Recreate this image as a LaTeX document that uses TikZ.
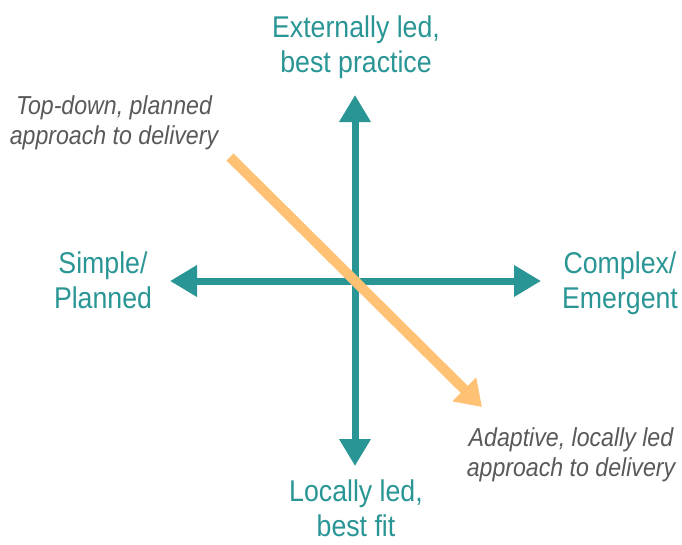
\documentclass[tikz,border=0pt]{standalone}
\usepackage{fontspec}
\setmainfont{Liberation Sans}[FakeStretch=0.89]
\usetikzlibrary{arrows.meta}
\definecolor{axisteal}{HTML}{2A9595}
\definecolor{pathorange}{HTML}{FFC174}
\definecolor{notegray}{HTML}{595959}
\tikzset{
    axis/.style={axisteal, line width=7pt, {Triangle[width=30pt,length=27pt]}-{Triangle[width=30pt,length=27pt]}},
    pathshift/.style={pathorange, line width=10pt, -{Triangle[width=32pt,length=25pt]}},
    axislabel/.style={text=axisteal, font=\fontsize{30}{35}\selectfont, align=center, inner sep=0pt},
    notelabel/.style={text=notegray, font=\fontsize{26}{30}\selectfont\itshape, align=center, inner sep=0pt},
}
\begin{document}
\begin{tikzpicture}[x=1pt, y=-1pt]
    \useasboundingbox (0,0) rectangle (682,544);

    \coordinate (west) at (170,281);
    \coordinate (east) at (541,281);
    \coordinate (north) at (355,95);
    \coordinate (south) at (355,466);
    \coordinate (start) at (230,157);
    \coordinate (finish) at (482,407);

    \draw[axis] (west) -- (east);
    \draw[axis] (south) -- (north);
    \draw[pathshift] (start) -- (finish);

    \node[axislabel] (ext) at (356,47.5) {Externally led,\\best practice};
    \node[axislabel] (loc) at (356,508.5) {Locally led,\\best fit};
    \node[axislabel] (simple) at (103,280) {Simple/\\Planned};
    \node[axislabel] (complex) at (620,283) {Complex/\\Emergent};
    \node[notelabel] (topdown) at (114,123) {Top-down, planned\\approach to delivery};
    \node[notelabel] (adaptive) at (571,455) {Adaptive, locally led\\approach to delivery};
\end{tikzpicture}
\end{document}
